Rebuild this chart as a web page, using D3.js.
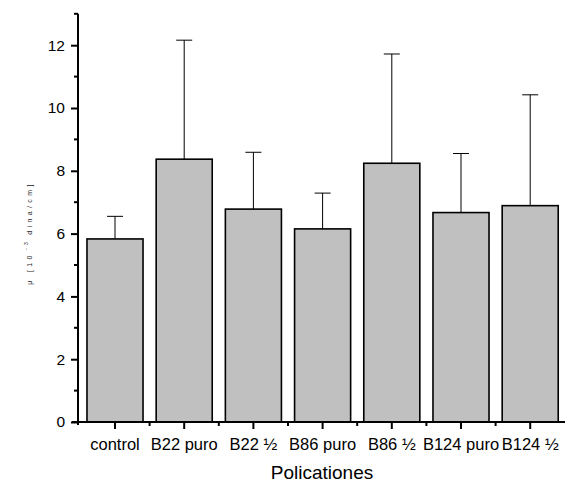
<!DOCTYPE html>
<html>
<head>
<meta charset="utf-8">
<script src="https://cdn.jsdelivr.net/npm/d3@7"></script>
<style>
  body { margin: 0; background: #fff; }
  text { font-family: "Liberation Sans", Arial, sans-serif; }
</style>
</head>
<body>
<script>
// Data
const categories = ['control', 'B22 puro', 'B22 ½', 'B86 puro', 'B86 ½', 'B124 puro', 'B124 ½'];
const means = [5.83, 8.37, 6.78, 6.15, 8.24, 6.67, 6.89];
const errorTops = [6.55, 12.16, 8.59, 7.29, 11.72, 8.55, 10.42];
const yTicks = [0, 2, 4, 6, 8, 10, 12];
const yMinor = [1, 3, 5, 7, 9, 11, 13];

const width = 565;
const height = 482;

const x = d3.scaleBand()
  .domain(categories)
  .range([80.4, 564.8])
  .paddingInner(0.19)
  .paddingOuter(0.095);

const y = d3.scaleLinear()
  .domain([0, 13])
  .range([422, 13.8]);

const svg = d3.select('body')
  .append('svg')
  .attr('width', width)
  .attr('height', height);

// bars
svg.append('g')
  .selectAll('rect')
  .data(categories)
  .join('rect')
  .attr('x', d => x(d))
  .attr('y', (d, i) => y(means[i]))
  .attr('width', x.bandwidth())
  .attr('height', (d, i) => y(0) - y(means[i]))
  .attr('fill', '#c0c0c0')
  .attr('stroke', '#000')
  .attr('stroke-width', 1.6);

// error bars (upper only)
const errG = svg.append('g')
  .attr('stroke', '#000')
  .attr('stroke-width', 1);

categories.forEach((c, i) => {
  const cx = x(c) + x.bandwidth() / 2;
  errG.append('line')
    .attr('x1', cx).attr('x2', cx)
    .attr('y1', y(means[i])).attr('y2', y(errorTops[i]));
  errG.append('line')
    .attr('x1', cx - 8).attr('x2', cx + 8)
    .attr('y1', y(errorTops[i])).attr('y2', y(errorTops[i]));
});

// y axis
const yAxis = svg.append('g')
  .attr('transform', 'translate(78,0)')
  .call(d3.axisLeft(y).tickValues(yTicks).tickSize(7).tickPadding(6).tickFormat(d3.format('d')));
yAxis.select('.domain').remove();
yAxis.selectAll('line').attr('stroke-width', 2);
yAxis.selectAll('text').attr('font-size', 15.5).attr('fill', '#000');

svg.append('g')
  .selectAll('line')
  .data(yMinor)
  .join('line')
  .attr('x1', 74).attr('x2', 78)
  .attr('y1', d => y(d)).attr('y2', d => y(d))
  .attr('stroke', '#000')
  .attr('stroke-width', 2);

svg.append('line')
  .attr('x1', 78).attr('x2', 78)
  .attr('y1', y(13)).attr('y2', y(0) + 3)
  .attr('stroke', '#000')
  .attr('stroke-width', 2);

// x axis
const xAxis = svg.append('g')
  .attr('transform', `translate(0,${y(0)})`)
  .call(d3.axisBottom(x).tickSize(7).tickPadding(9));
xAxis.select('.domain').remove();
xAxis.selectAll('line').attr('stroke-width', 2);
xAxis.selectAll('text').attr('font-size', 16.5).attr('fill', '#000');

svg.append('g')
  .selectAll('line')
  .data(categories.slice(1))
  .join('line')
  .attr('x1', d => x(d) - x.step() * x.paddingInner() / 2)
  .attr('x2', d => x(d) - x.step() * x.paddingInner() / 2)
  .attr('y1', y(0)).attr('y2', y(0) + 4)
  .attr('stroke', '#000')
  .attr('stroke-width', 2);

svg.append('line')
  .attr('x1', 72).attr('x2', 565)
  .attr('y1', y(0)).attr('y2', y(0))
  .attr('stroke', '#000')
  .attr('stroke-width', 2);

// axis titles
svg.append('text')
  .attr('x', 322)
  .attr('y', 479)
  .attr('text-anchor', 'middle')
  .attr('font-size', 19)
  .text('Policationes');

const yLabel = svg.append('text')
  .attr('transform', 'translate(32,233) rotate(-90)')
  .attr('text-anchor', 'middle')
  .attr('font-size', 7)
  .attr('fill', '#222')
  .attr('letter-spacing', 3.4);
yLabel.append('tspan').text('μ [10');
yLabel.append('tspan').attr('dx', 2).attr('dy', -4).attr('font-size', 5).text('-3');
yLabel.append('tspan').attr('dx', 4).attr('dy', 4).text('dina/cm]');
</script>
</body>
</html>
